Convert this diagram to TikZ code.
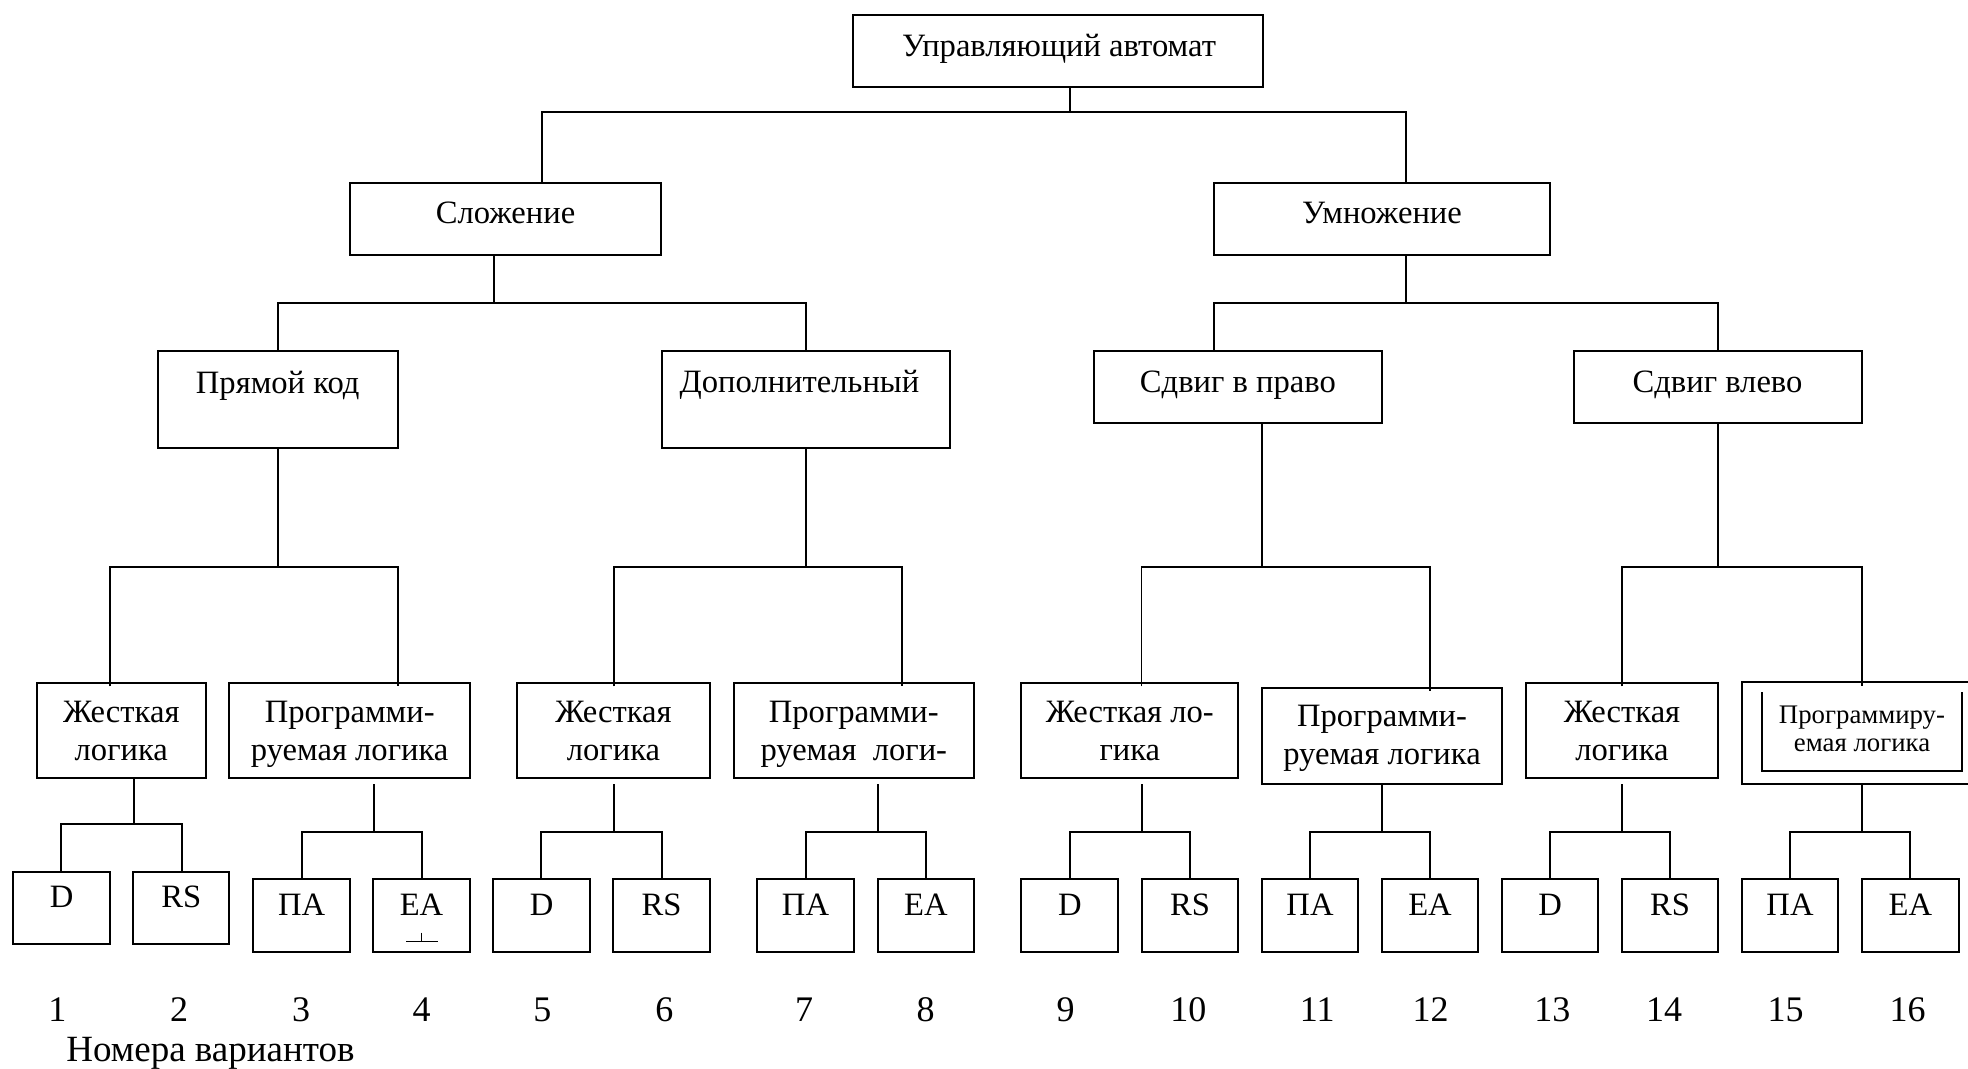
\documentclass[tikz,border=0pt]{standalone}
\usepackage{fontspec}
\setmainfont{Liberation Serif}
\usetikzlibrary{fit}

% parent box, stem x, bus y, left x, right x, left child, right child,
% options for the drops, options for the stem
\newcommand\treefork[9]{%
  \coordinate (#1-j) at (#2,#3);
  \coordinate (#1-l) at (#4,#3);
  \coordinate (#1-r) at (#5,#3);
  \draw[wire,#9] (#1.south -| #1-j) -- (#1-j);
  \draw[wire,#8] (#6.north -| #1-l) -- (#1-l) -- (#1-r) -- (#7.north -| #1-r);
}

\begin{document}
\begin{tikzpicture}[x=0.5pt,y=-0.5pt,
  box/.style={draw, line width=1pt, inner sep=0pt},
  leaf/.style={box, font=\fontsize{16.3}{18.85}\selectfont, text height=6pt, text depth=1.5pt},
  lbl/.style={font=\fontsize{16.3}{18.85}\selectfont, inner sep=0pt, anchor=base, align=center},
  small/.style={font=\fontsize{13.4}{14.2}\selectfont, inner sep=0pt, anchor=base, align=center},
  num/.style={font=\fontsize{18}{21}\selectfont, inner sep=0pt, anchor=base},
  wire/.style={line width=0.9pt},
  into/.style={shorten <=-2.3pt, shorten >=-2.3pt},
  gap/.style={shorten <=2.5pt},
  ]
\useasboundingbox (0,0) rectangle (1968,1069);

% root
\node[box, fit={(853,15) (1262.7,87.3)}] (ua) {};
\node[lbl] (ua-t) at (1059,56.7) {Управляющий автомат};

% operations
\node[box, fit={(349.5,183) (661.4,255.3)}] (sl) {};
\node[lbl] (sl-t) at (505.5,224) {Сложение};
\node[box, fit={(1213.7,183) (1550,255.3)}] (um) {};
\node[lbl] (um-t) at (1382,224) {Умножение};

% codes and shifts
\node[box, fit={(157.5,351) (397.9,447.7)}] (pk) {};
\node[lbl] (pk-t) at (277.7,393.3) {Прямой код};
\node[box, fit={(662,351) (949.5,447.7)}] (dk) {};
\node[lbl] (dk-t) at (799.5,392) {Дополнительный};
\node[box, fit={(1093.8,351) (1381.9,423.3)}] (sr) {};
\node[lbl] (sr-t) at (1237.9,392) {Сдвиг в право};
\node[box, fit={(1574,351) (1862,423.3)}] (sv) {};
\node[lbl] (sv-t) at (1717.5,392) {Сдвиг влево};

% logic types (labels anchored at the baseline of their last line)
\node[box, fit={(37,682.7) (205.7,778.3)}] (h1) {};
\node[lbl] (h1-t) at (121.3,760) {Жесткая\\логика};
\node[box, fit={(229.3,682.7) (470,778.3)}] (p1) {};
\node[lbl] (p1-t) at (349.7,760) {Программи-\\руемая логика};
\node[box, fit={(517,682.7) (710,778.3)}] (h2) {};
\node[lbl] (h2-t) at (613.5,760) {Жесткая\\логика};
\node[box, fit={(733.7,682.7) (974,778.3)}] (p2) {};
\node[lbl] (p2-t) at (853.8,760) {Программи-\\руемая\ \ логи-};
\node[box, fit={(1021.3,682.7) (1238.3,778.3)}] (h3) {};
\node[lbl] (h3-t) at (1129.8,760) {Жесткая ло-\\гика};
\node[box, fit={(1262,687.7) (1502.3,783.7)}] (p3) {};
\node[lbl] (p3-t) at (1382,764) {Программи-\\руемая логика};
\node[box, fit={(1525.7,682.7) (1718.3,778.3)}] (h4) {};
\node[lbl] (h4-t) at (1622,760) {Жесткая\\логика};
\node[box, fit={(1741.7,682) (1972,783.7)}] (p4) {};
\draw[line width=1pt] (1762.3,692.3) -- (1762.3,771) -- (1961.7,771) -- (1961.7,692.3);
\node[small] (p4-t) at (1862,751.7) {Программиру-\\емая логика};

% automata
\node[leaf, fit={(13.3,871.7) (110,944)}] (d1) {D};
\node[leaf, fit={(133.3,871.7) (229.3,944)}] (rs1) {RS};
\node[leaf, fit={(253.3,879.3) (350,951.7)}] (pa1) {ПА};
\node[leaf, fit={(373,879.3) (470,951.7)}] (ea1) {ЕА};
\draw[line width=0.5pt] (406,941) -- (437.7,941) (421.7,932.7) -- (421.7,941);
\node[leaf, fit={(493.3,879.3) (590,951.7)}] (d2) {D};
\node[leaf, fit={(613.3,879.3) (710,951.7)}] (rs2) {RS};
\node[leaf, fit={(757.3,879.3) (853.7,951.7)}] (pa2) {ПА};
\node[leaf, fit={(877.7,879.3) (974,951.7)}] (ea2) {ЕА};
\node[leaf, fit={(1021.3,879.3) (1118.3,951.7)}] (d3) {D};
\node[leaf, fit={(1141.7,879.3) (1238.3,951.7)}] (rs3) {RS};
\node[leaf, fit={(1261.7,879.3) (1358.3,951.7)}] (pa3) {ПА};
\node[leaf, fit={(1381.7,879.3) (1478.3,951.7)}] (ea3) {ЕА};
\node[leaf, fit={(1501.7,879.3) (1598.3,951.7)}] (d4) {D};
\node[leaf, fit={(1621.7,879.3) (1718.3,951.7)}] (rs4) {RS};
\node[leaf, fit={(1741.7,879.3) (1838.3,951.7)}] (pa4) {ПА};
\node[leaf, fit={(1861.7,879.3) (1959,951.7)}] (ea4) {ЕА};

% connectors
\treefork{ua}{1070}{111.7}{541.6}{1405.7}{sl}{um}{}{}
\treefork{sl}{494}{303.3}{278}{805.8}{pk}{dk}{}{}
\treefork{um}{1405.7}{303.3}{1213.7}{1717.6}{sr}{sv}{}{}
\treefork{pk}{278}{567.3}{109.8}{397.9}{h1}{p1}{into}{}
\treefork{dk}{805.8}{567.3}{613.7}{901.8}{h2}{p2}{into}{}
\treefork{sr}{1262}{567.3}{1141.5}{1429.6}{h3}{p3}{into}{}
\treefork{sv}{1717.6}{567.3}{1622.2}{1862}{h4}{p4}{into}{}
\treefork{h1}{133.7}{824}{61.3}{181.7}{d1}{rs1}{}{}
\treefork{p1}{373.7}{832}{301.7}{421.7}{pa1}{ea1}{}{gap}
\treefork{h2}{613.7}{832}{541.3}{661.7}{d2}{rs2}{}{gap}
\treefork{p2}{877.7}{832}{805.7}{925.7}{pa2}{ea2}{}{gap}
\treefork{h3}{1142}{832}{1069.7}{1190}{d3}{rs3}{}{gap}
\treefork{p3}{1382}{832}{1310}{1430}{pa3}{ea3}{}{}
\treefork{h4}{1622}{832}{1550}{1670}{d4}{rs4}{}{gap}
\treefork{p4}{1862}{832}{1790}{1910}{pa4}{ea4}{}{}

% variant numbers
\foreach \x [count=\i] in {57.3,179,301,421.7,542.3,664.3,804,925.7,1065.7,1188.3,1317.3,1430.7,1552.3,1664,1785.7,1907.7}
  \node[num] (n\i) at (\x,1021.7) {\i};
\node[num, anchor=base west, font=\fontsize{18.5}{21}\selectfont] (nv) at (66,1061.7) {Номера вариантов};
\end{tikzpicture}
\end{document}
